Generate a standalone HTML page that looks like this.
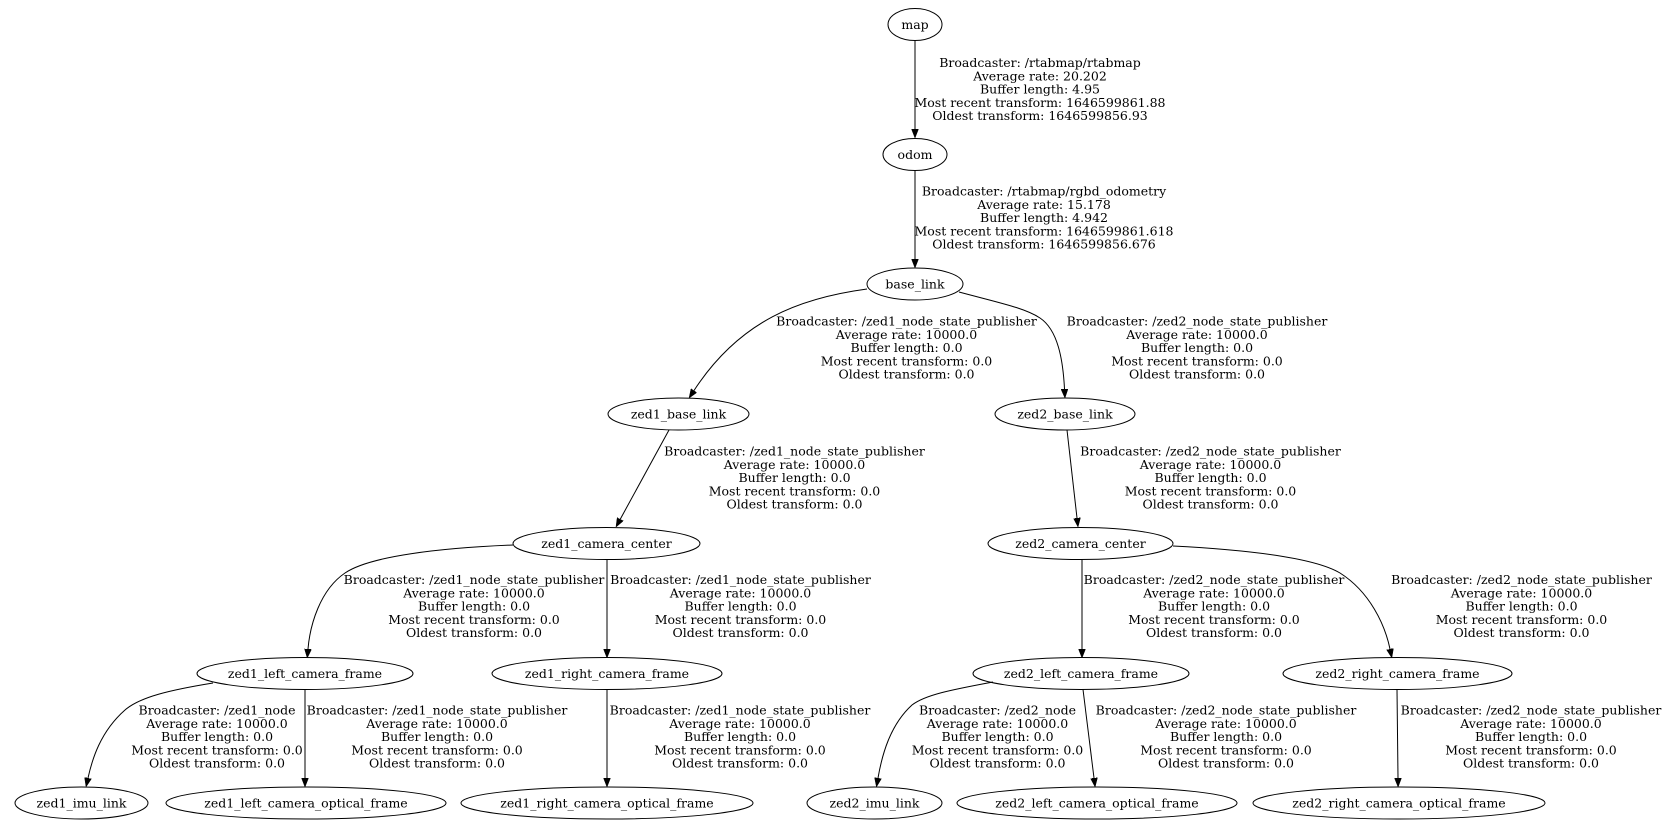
<!DOCTYPE html>
<html>
<head>
<meta charset="utf-8">
<style>
html,body{margin:0;padding:0;background:#fff;}
svg{display:block;}
text{font-family:"DejaVu Serif","Liberation Serif",serif;font-size:12.5px;fill:#000;}
</style>
</head>
<body>
<svg width="1670" height="827" viewBox="0 0 1670 827" xmlns="http://www.w3.org/2000/svg">
<defs>
<marker id="ah" viewBox="0 0 9 7" refX="0" refY="3.5" markerWidth="9" markerHeight="7" markerUnits="userSpaceOnUse" orient="auto">
<path d="M0,0 L9,3.5 L0,7 Z" fill="#000" stroke="#000" stroke-width="0.5"/>
</marker>
</defs>
<rect width="1670" height="827" fill="#fff"/>

<g fill="none" stroke="#000" stroke-width="1">
<!-- edges -->
<path d="M915,40 L915,129" marker-end="url(#ah)"/>
<path d="M915,170.5 L915,259" marker-end="url(#ah)"/>
<path d="M867,289 C800,298 740,320 694,390.5" marker-end="url(#ah)"/>
<path d="M959,292 C1000,303 1025,308 1040,318 C1058,330 1063,360 1064.5,389" marker-end="url(#ah)"/>
<path d="M669,430 L620.3,519.1" marker-end="url(#ah)"/>
<path d="M1067,430 L1077,518" marker-end="url(#ah)"/>
<path d="M513,545 C440,548 370,556 345,573 C320,590 310,625 308,649" marker-end="url(#ah)"/>
<path d="M607,559.5 L607,649" marker-end="url(#ah)"/>
<path d="M1082,559.5 L1082,649" marker-end="url(#ah)"/>
<path d="M1173,546 C1250,550 1315,558 1340,573 C1370,592 1385,625 1390,649" marker-end="url(#ah)"/>
<path d="M213,683 C170,690 140,697 125,710 C100,732 92,760 88,778" marker-end="url(#ah)"/>
<path d="M305,689.5 L305,778" marker-end="url(#ah)"/>
<path d="M607,689.5 L607,778" marker-end="url(#ah)"/>
<path d="M993,682 C950,690 925,695 912,705 C890,725 882,755 878,778" marker-end="url(#ah)"/>
<path d="M1083,689.5 L1094,778" marker-end="url(#ah)"/>
<path d="M1397,689.5 L1398,778" marker-end="url(#ah)"/>

<!-- nodes -->
<ellipse cx="915" cy="24.5" rx="27" ry="16"/>
<ellipse cx="915" cy="154.5" rx="32" ry="16"/>
<ellipse cx="915" cy="284" rx="48" ry="16"/>
<ellipse cx="678.5" cy="414" rx="70.5" ry="16"/>
<ellipse cx="1065" cy="414" rx="70" ry="16"/>
<ellipse cx="606.5" cy="543.5" rx="93.5" ry="16"/>
<ellipse cx="1080.5" cy="543.5" rx="92.5" ry="16"/>
<ellipse cx="305" cy="673.5" rx="108" ry="16"/>
<ellipse cx="607" cy="673.5" rx="115" ry="16"/>
<ellipse cx="1081" cy="673.5" rx="108" ry="16"/>
<ellipse cx="1397.5" cy="673.5" rx="114.5" ry="16"/>
<ellipse cx="81.5" cy="803" rx="66.5" ry="16"/>
<ellipse cx="306" cy="803" rx="140" ry="16"/>
<ellipse cx="607" cy="803" rx="146" ry="16"/>
<ellipse cx="874.5" cy="803" rx="67.5" ry="16"/>
<ellipse cx="1097" cy="803" rx="140" ry="16"/>
<ellipse cx="1399" cy="803" rx="146" ry="16"/>
</g>

<g text-anchor="middle">
<!-- node labels -->
<text x="915" y="29">map</text>
<text x="915" y="159">odom</text>
<text x="915" y="288.5">base_link</text>
<text x="678.5" y="418.5">zed1_base_link</text>
<text x="1065" y="418.5">zed2_base_link</text>
<text x="606.5" y="548">zed1_camera_center</text>
<text x="1080.5" y="548">zed2_camera_center</text>
<text x="305" y="678">zed1_left_camera_frame</text>
<text x="607" y="678">zed1_right_camera_frame</text>
<text x="1081" y="678">zed2_left_camera_frame</text>
<text x="1397.5" y="678">zed2_right_camera_frame</text>
<text x="81.5" y="807.5">zed1_imu_link</text>
<text x="306" y="807.5">zed1_left_camera_optical_frame</text>
<text x="607" y="807.5">zed1_right_camera_optical_frame</text>
<text x="874.5" y="807.5">zed2_imu_link</text>
<text x="1097" y="807.5">zed2_left_camera_optical_frame</text>
<text x="1399" y="807.5">zed2_right_camera_optical_frame</text>

<!-- edge labels -->
<text x="1040" y="67">Broadcaster: /rtabmap/rtabmap</text>
<text x="1040" y="80.3">Average rate: 20.202</text>
<text x="1040" y="93.6">Buffer length: 4.95</text>
<text x="1040" y="106.9">Most recent transform: 1646599861.88</text>
<text x="1040" y="120.2">Oldest transform: 1646599856.93</text>

<text x="1044" y="195.5">Broadcaster: /rtabmap/rgbd_odometry</text>
<text x="1044" y="208.8">Average rate: 15.178</text>
<text x="1044" y="222.1">Buffer length: 4.942</text>
<text x="1044" y="235.4">Most recent transform: 1646599861.618</text>
<text x="1044" y="248.7">Oldest transform: 1646599856.676</text>

<text x="906.5" y="325.5">Broadcaster: /zed1_node_state_publisher</text>
<text x="906.5" y="338.8">Average rate: 10000.0</text>
<text x="906.5" y="352.1">Buffer length: 0.0</text>
<text x="906.5" y="365.4">Most recent transform: 0.0</text>
<text x="906.5" y="378.7">Oldest transform: 0.0</text>

<text x="1197" y="325.5">Broadcaster: /zed2_node_state_publisher</text>
<text x="1197" y="338.8">Average rate: 10000.0</text>
<text x="1197" y="352.1">Buffer length: 0.0</text>
<text x="1197" y="365.4">Most recent transform: 0.0</text>
<text x="1197" y="378.7">Oldest transform: 0.0</text>

<text x="794.5" y="455.5">Broadcaster: /zed1_node_state_publisher</text>
<text x="794.5" y="468.8">Average rate: 10000.0</text>
<text x="794.5" y="482.1">Buffer length: 0.0</text>
<text x="794.5" y="495.4">Most recent transform: 0.0</text>
<text x="794.5" y="508.7">Oldest transform: 0.0</text>

<text x="1210.5" y="455.5">Broadcaster: /zed2_node_state_publisher</text>
<text x="1210.5" y="468.8">Average rate: 10000.0</text>
<text x="1210.5" y="482.1">Buffer length: 0.0</text>
<text x="1210.5" y="495.4">Most recent transform: 0.0</text>
<text x="1210.5" y="508.7">Oldest transform: 0.0</text>

<text x="474" y="584">Broadcaster: /zed1_node_state_publisher</text>
<text x="474" y="597.3">Average rate: 10000.0</text>
<text x="474" y="610.6">Buffer length: 0.0</text>
<text x="474" y="623.9">Most recent transform: 0.0</text>
<text x="474" y="637.2">Oldest transform: 0.0</text>

<text x="740.5" y="584">Broadcaster: /zed1_node_state_publisher</text>
<text x="740.5" y="597.3">Average rate: 10000.0</text>
<text x="740.5" y="610.6">Buffer length: 0.0</text>
<text x="740.5" y="623.9">Most recent transform: 0.0</text>
<text x="740.5" y="637.2">Oldest transform: 0.0</text>

<text x="1214" y="584">Broadcaster: /zed2_node_state_publisher</text>
<text x="1214" y="597.3">Average rate: 10000.0</text>
<text x="1214" y="610.6">Buffer length: 0.0</text>
<text x="1214" y="623.9">Most recent transform: 0.0</text>
<text x="1214" y="637.2">Oldest transform: 0.0</text>

<text x="1521.5" y="584">Broadcaster: /zed2_node_state_publisher</text>
<text x="1521.5" y="597.3">Average rate: 10000.0</text>
<text x="1521.5" y="610.6">Buffer length: 0.0</text>
<text x="1521.5" y="623.9">Most recent transform: 0.0</text>
<text x="1521.5" y="637.2">Oldest transform: 0.0</text>

<text x="217" y="714.5">Broadcaster: /zed1_node</text>
<text x="217" y="727.8">Average rate: 10000.0</text>
<text x="217" y="741.1">Buffer length: 0.0</text>
<text x="217" y="754.4">Most recent transform: 0.0</text>
<text x="217" y="767.7">Oldest transform: 0.0</text>

<text x="437" y="714.5">Broadcaster: /zed1_node_state_publisher</text>
<text x="437" y="727.8">Average rate: 10000.0</text>
<text x="437" y="741.1">Buffer length: 0.0</text>
<text x="437" y="754.4">Most recent transform: 0.0</text>
<text x="437" y="767.7">Oldest transform: 0.0</text>

<text x="740" y="714.5">Broadcaster: /zed1_node_state_publisher</text>
<text x="740" y="727.8">Average rate: 10000.0</text>
<text x="740" y="741.1">Buffer length: 0.0</text>
<text x="740" y="754.4">Most recent transform: 0.0</text>
<text x="740" y="767.7">Oldest transform: 0.0</text>

<text x="997.5" y="714.5">Broadcaster: /zed2_node</text>
<text x="997.5" y="727.8">Average rate: 10000.0</text>
<text x="997.5" y="741.1">Buffer length: 0.0</text>
<text x="997.5" y="754.4">Most recent transform: 0.0</text>
<text x="997.5" y="767.7">Oldest transform: 0.0</text>

<text x="1226" y="714.5">Broadcaster: /zed2_node_state_publisher</text>
<text x="1226" y="727.8">Average rate: 10000.0</text>
<text x="1226" y="741.1">Buffer length: 0.0</text>
<text x="1226" y="754.4">Most recent transform: 0.0</text>
<text x="1226" y="767.7">Oldest transform: 0.0</text>

<text x="1531" y="714.5">Broadcaster: /zed2_node_state_publisher</text>
<text x="1531" y="727.8">Average rate: 10000.0</text>
<text x="1531" y="741.1">Buffer length: 0.0</text>
<text x="1531" y="754.4">Most recent transform: 0.0</text>
<text x="1531" y="767.7">Oldest transform: 0.0</text>
</g>
</svg>
</body>
</html>
